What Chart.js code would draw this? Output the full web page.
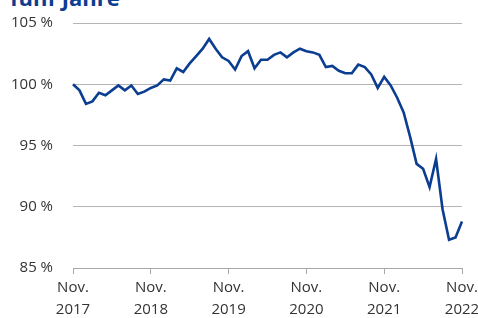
<!DOCTYPE html>
<html>
<head>
<meta charset="utf-8">
<script src="https://cdn.jsdelivr.net/npm/chart.js@4"></script>
<style>
    html, body { margin: 0; padding: 0; background: #fff; }
    #wrap { position: relative; width: 478px; height: 318px; overflow: hidden; }
    #title {
        position: absolute; left: 10px; top: -18px;
        font: bold 22px "Open Sans", sans-serif; color: #0b3d91; white-space: nowrap;
    }
    canvas { position: absolute; left: 0; top: 0; }
</style>
</head>
<body>
<div id="wrap">
    <div id="title">fünf Jahre</div>
    <canvas id="chart" width="478" height="318"></canvas>
</div>
<script>
// Index values in percent, monthly from Nov. 2017 to Nov. 2022
const indexValues = [
    100.0, 99.5, 98.4, 98.6, 99.3, 99.1, 99.5, 99.9, 99.5, 99.9, 99.2, 99.4,
    99.7, 99.9, 100.4, 100.3, 101.3, 101.0, 101.7, 102.3, 102.9, 103.7, 102.9, 102.2,
    101.9, 101.2, 102.3, 102.7, 101.3, 102.0, 102.0, 102.4, 102.6, 102.2, 102.6, 102.9,
    102.7, 102.6, 102.4, 101.4, 101.5, 101.1, 100.9, 100.9, 101.6, 101.4, 100.8, 99.7,
    100.6, 99.9, 98.9, 97.7, 95.7, 93.5, 93.1, 91.6, 93.9, 89.8, 87.3, 87.5,
    88.8
];
const monthNames = ['Nov.', 'Dez.', 'Jan.', 'Feb.', 'März', 'Apr.', 'Mai', 'Juni', 'Juli', 'Aug.', 'Sep.', 'Okt.'];
const yearTicks = ['2017', '2018', '2019', '2020', '2021', '2022'];
const yTicks = [85, 90, 95, 100, 105];

// month labels: Nov. 2017 ... Nov. 2022
const monthLabels = indexValues.map((v, i) => {
    const year = 2017 + Math.floor((i + 10) / 12);
    return monthNames[i % 12] + ' ' + year;
});

const ctx = document.getElementById('chart').getContext('2d');
new Chart(ctx, {
    type: 'line',
    data: {
        labels: monthLabels,
        datasets: [{
            data: indexValues,
            borderColor: '#0b3d91',
            borderWidth: 2.6,
            pointRadius: 0,
            tension: 0,
            fill: false
        }]
    },
    options: {
        responsive: false,
        animation: false,
        layout: { padding: { top: 23, right: 16, left: 0, bottom: 0 } },
        plugins: { legend: { display: false }, tooltip: { enabled: false } },
        scales: {
            x: {
                offset: false,
                afterFit: function(scale) {
                    scale.height = 50;
                    scale.paddingLeft = 0;
                    scale.paddingRight = 0;
                },
                grid: { drawOnChartArea: false, drawTicks: true, tickLength: 6, color: '#a8a8a8' },
                border: { display: true, color: '#a8a8a8', width: 1 },
                ticks: {
                    autoSkip: false,
                    maxRotation: 0,
                    padding: 3,
                    color: '#333',
                    font: { family: 'Open Sans', size: 15, lineHeight: 1.45 },
                    callback: function(value, index) {
                        if (index % 12 !== 0) return null;
                        return ['Nov.', yearTicks[index / 12]];
                    }
                }
            },
            y: {
                min: 85,
                max: 105,
                afterBuildTicks: function(scale) {
                    scale.ticks = yTicks.map(v => ({ value: v }));
                },
                afterFit: function(scale) {
                    scale.width = 73;
                    scale.paddingTop = 0;
                    scale.paddingBottom = 0;
                },
                grid: { drawTicks: false, color: '#b4b4b4', lineWidth: 1 },
                border: { display: false },
                ticks: {
                    padding: 20,
                    color: '#333',
                    font: { family: 'Open Sans', size: 15 },
                    callback: v => v + ' %'
                }
            }
        }
    }
});
</script>
</body>
</html>
